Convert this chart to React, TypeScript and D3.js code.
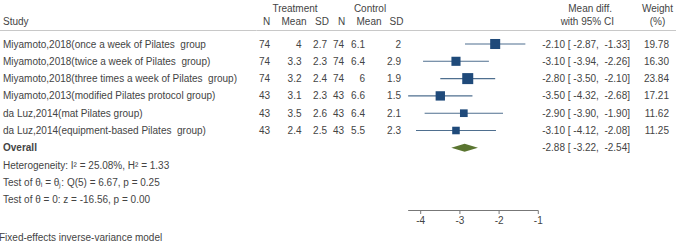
import React from "react";
import * as d3 from "d3";

const studies = [
  "Miyamoto,2018(once a week of Pilates  group",
  "Miyamoto,2018(twice a week of Pilates  group)",
  "Miyamoto,2018(three times a week of Pilates  group)",
  "Miyamoto,2013(modified Pilates protocol group)",
  "da Luz,2014(mat Pilates group)",
  "da Luz,2014(equipment-based Pilates  group)",
];
const tN = [74, 74, 74, 43, 43, 43];
const tMean = [4, 3.3, 3.2, 3.1, 3.5, 2.4];
const tSD = [2.7, 2.3, 2.4, 2.3, 2.6, 2.5];
const cN = [74, 74, 74, 43, 43, 43];
const cMean = [6.1, 6.4, 6, 6.6, 6.4, 5.5];
const cSD = [2, 2.9, 1.9, 1.5, 2.1, 2.3];
const md = [-2.1, -3.1, -2.8, -3.5, -2.9, -3.1];
const lo = [-2.87, -3.94, -3.5, -4.32, -3.9, -4.12];
const hi = [-1.33, -2.26, -2.1, -2.68, -1.9, -2.08];
const weight = [19.78, 16.3, 23.84, 17.21, 11.62, 11.25];
const overall = { md: -2.88, lo: -3.22, hi: -2.54 };
const xTicks = [-4, -3, -2, -1];
const footLines = [
  "Heterogeneity: I\u00b2 = 25.08%, H\u00b2 = 1.33",
  "Test of \u03b8\u1d62 = \u03b8\u2c7c: Q(5) = 6.67, p = 0.25",
  "Test of \u03b8 = 0: z = -16.56, p = 0.00",
];

const W = 676;
const H = 243;
const FONT = "'Liberation Sans', Arial, sans-serif";
const TXT = "#444";

export default function App() {
  const x = d3.scaleLinear().domain([-4, -1]).range([420.7, 538.3]);
  const y = d3.scaleLinear().domain([0, 1]).range([44, 61.3]);
  const size = d3.scaleSqrt().domain([0, 23.84]).range([0, 11]);
  const f2 = (v: number) => v.toFixed(2);
  const ciText = (m: number, l: number, h: number) =>
    `${f2(m)} [ ${f2(l)},  ${f2(h)}]`;
  const axisY = 210.5;
  const axisMin = Math.min(...lo);
  const fs = 10;
  const txt = (props: any, s: string) => (
    <text
      fontFamily={FONT}
      fontSize={fs}
      fill={TXT}
      dominantBaseline="central"
      style={{ whiteSpace: "pre" }}
      {...props}
    >
      {s}
    </text>
  );
  return (
    <div style={{ position: "fixed", left: 0, top: 0 }}>
      <svg width={W} height={H} style={{ display: "block", background: "#fff" }}>
        {/* headers */}
        {txt({ x: 295, y: 8, textAnchor: "middle" }, "Treatment")}
        {txt({ x: 370, y: 8, textAnchor: "middle" }, "Control")}
        {txt({ x: 3, y: 21.5 }, "Study")}
        {txt({ x: 266.5, y: 21.5, textAnchor: "middle" }, "N")}
        {txt({ x: 294, y: 21.5, textAnchor: "middle" }, "Mean")}
        {txt({ x: 322, y: 21.5, textAnchor: "middle" }, "SD")}
        {txt({ x: 341.5, y: 21.5, textAnchor: "middle" }, "N")}
        {txt({ x: 369, y: 21.5, textAnchor: "middle" }, "Mean")}
        {txt({ x: 396.5, y: 21.5, textAnchor: "middle" }, "SD")}
        {txt({ x: 612, y: 8, textAnchor: "end" }, "Mean diff.")}
        {txt({ x: 614, y: 21.5, textAnchor: "end" }, "with 95% CI")}
        {txt({ x: 657.5, y: 8, textAnchor: "middle" }, "Weight")}
        {txt({ x: 657.5, y: 21.5, textAnchor: "middle" }, "(%)")}
        <line x1={0} x2={W} y1={30.5} y2={30.5} stroke="#c8c8c8" strokeWidth={1} />

        {studies.map((s, i) => (
          <g key={i}>
            {txt({ x: 3, y: y(i) }, s)}
            {txt({ x: 270, y: y(i), textAnchor: "end" }, String(tN[i]))}
            {txt({ x: 301.5, y: y(i), textAnchor: "end" }, String(tMean[i]))}
            {txt({ x: 327, y: y(i), textAnchor: "end" }, String(tSD[i]))}
            {txt({ x: 344, y: y(i), textAnchor: "end" }, String(cN[i]))}
            {txt({ x: 365, y: y(i), textAnchor: "end" }, String(cMean[i]))}
            {txt({ x: 401, y: y(i), textAnchor: "end" }, String(cSD[i]))}
            <line
              x1={x(lo[i])}
              x2={x(hi[i])}
              y1={y(i)}
              y2={y(i)}
              stroke="#4f6f8f"
              strokeWidth={1.1}
            />
            <rect
              x={x(md[i]) - size(weight[i]) / 2}
              y={y(i) - size(weight[i]) / 2}
              width={size(weight[i])}
              height={size(weight[i])}
              fill="#1f4a7a"
            />
            {txt({ x: 630, y: y(i), textAnchor: "end" }, ciText(md[i], lo[i], hi[i]))}
            {txt({ x: 669, y: y(i), textAnchor: "end" }, f2(weight[i]))}
          </g>
        ))}

        {/* overall */}
        {txt({ x: 3, y: y(6), fontWeight: "bold" }, "Overall")}
        <polygon
          points={[
            [x(overall.lo), y(6)],
            [x(overall.md), y(6) - 4],
            [x(overall.hi), y(6)],
            [x(overall.md), y(6) + 4],
          ]
            .map((p) => p.join(","))
            .join(" ")}
          fill="#5a7530"
        />
        {txt({ x: 630, y: y(6), textAnchor: "end" }, ciText(overall.md, overall.lo, overall.hi))}
        {footLines.map((l, i) => (
          <g key={l}>{txt({ x: 3, y: y(7 + i) }, l)}</g>
        ))}

        {/* axis */}
        <line x1={x(axisMin)} x2={x(-1)} y1={axisY} y2={axisY} stroke="#777" strokeWidth={1} />
        {xTicks.map((t) => (
          <g key={t}>
            <line x1={x(t)} x2={x(t)} y1={axisY} y2={axisY + 3.5} stroke="#777" strokeWidth={1} />
            {txt({ x: x(t), y: axisY + 9.5, textAnchor: "middle" }, String(t))}
          </g>
        ))}
        {txt({ x: -1, y: 237 }, "Fixed-effects inverse-variance model")}
      </svg>
    </div>
  );
}
